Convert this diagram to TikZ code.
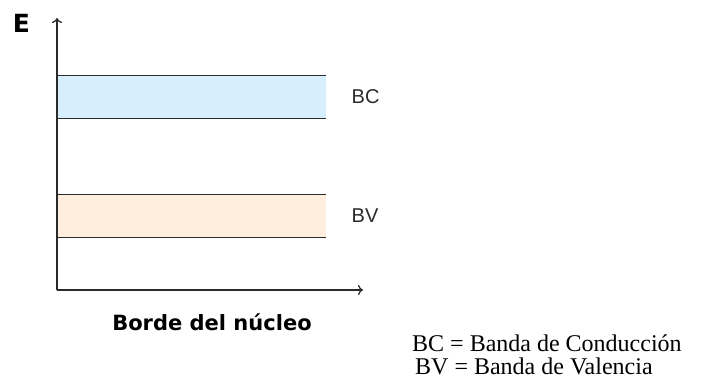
\documentclass[tikz,border=0pt]{standalone}
\usepackage{fontspec}
\setmainfont{Liberation Serif}
\setsansfont{Liberation Sans}
\newfontfamily\axisfont{DejaVu Sans}
\usetikzlibrary{arrows.meta, positioning}
\definecolor{bandblue}{HTML}{D7EEFC}
\definecolor{bandorange}{HTML}{FDEEDE}
\definecolor{axisgray}{HTML}{2A2A2A}

\begin{document}
\begin{tikzpicture}[x=1pt, y=-1pt, node distance={22pt},
        axis/.style = {draw=axisgray, line width=1.3pt, -{To[length=5pt, width=10pt]}},
        edgeline/.style = {draw=axisgray, line width=1.3pt},
        bandbox/.style = {minimum width=269pt, minimum height=42pt, inner sep=0pt},
        bandlabel/.style = {font=\sffamily\fontsize{20}{24}\selectfont, text=axisgray},
        axislabel/.style = {font=\axisfont\bfseries\fontsize{21}{24}\selectfont, anchor=base},
        legend/.style = {font=\fontsize{24}{28}\selectfont, inner sep=0pt, anchor=base west}]
    \useasboundingbox (0,0) rectangle (703,385);

    % axes
    \coordinate (O) at (57,290);
    \coordinate (Etip) at (57,18);
    \coordinate (Xtip) at (363,290);
    \node[axislabel, font=\axisfont\bfseries\fontsize{25}{28}\selectfont] (E) at (21.5,33) {E};
    \node[axislabel] (borde) at (212,330) {Borde del núcleo};

    % bands
    \node[bandbox, fill=bandblue] (BCband) at (191.5,97) {};
    \node[bandbox, fill=bandorange] (BVband) at (191.5,216) {};
    \draw[edgeline] (BCband.north west) -- (BCband.north east);
    \draw[edgeline] (BCband.south west) -- (BCband.south east);
    \draw[edgeline] (BVband.north west) -- (BVband.north east);
    \draw[edgeline] (BVband.south west) -- (BVband.south east);
    \node[bandlabel, right=of BCband] (BC) {BC};
    \node[bandlabel, right=of BVband] (BV) {BV};

    \draw[axis] (O) -- (Etip);
    \draw[axis] (O) -- (Xtip);

    % legend
    \node[legend] (legBC) at (412,351) {BC = Banda de Conducción};
    \node[legend] (legBV) at (415,374) {BV = Banda de Valencia};
\end{tikzpicture}
\end{document}
